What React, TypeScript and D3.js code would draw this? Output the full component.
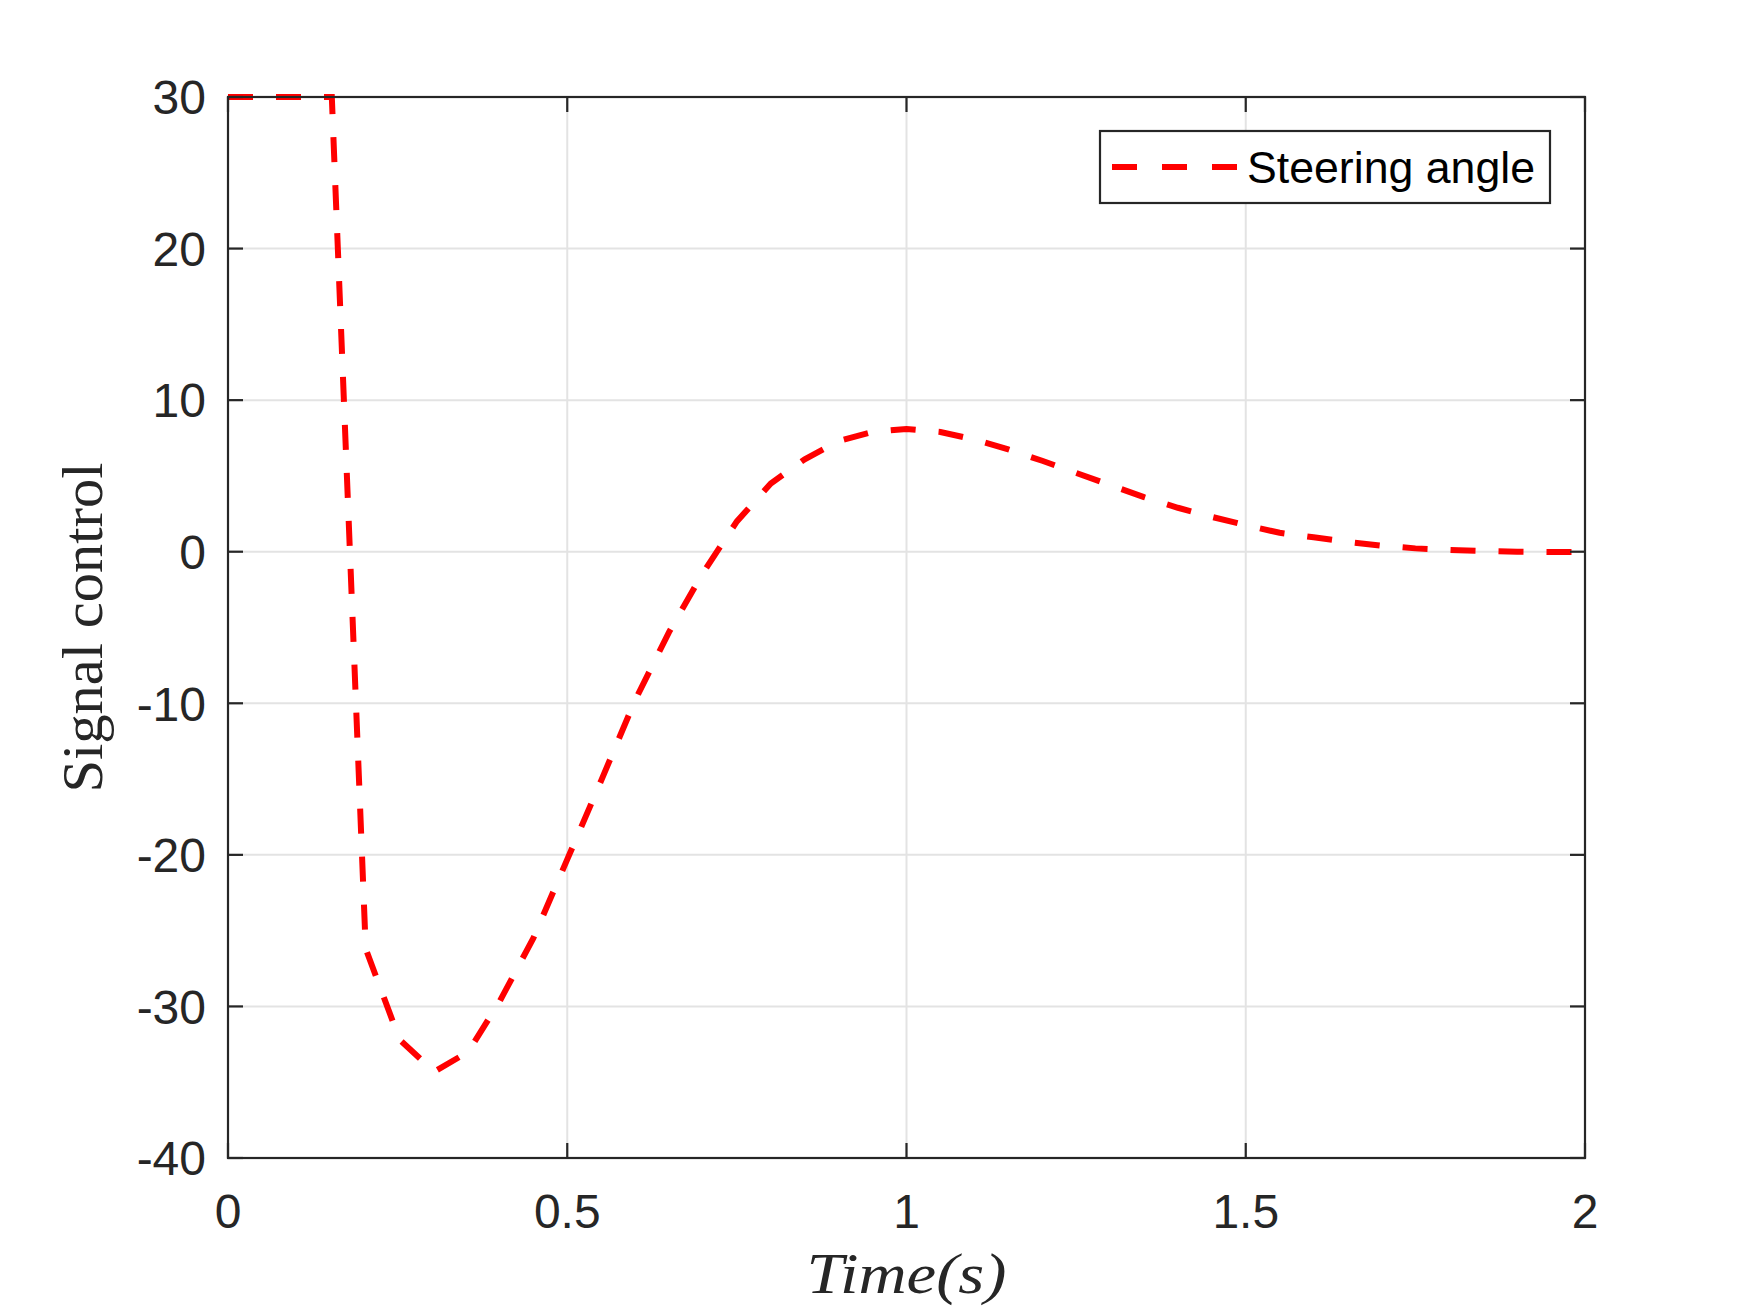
import React from "react";
import * as d3 from "d3";

const timeValues: number[] = [
  0, 0.05, 0.1, 0.153, 0.203, 0.253, 0.304, 0.354, 0.4, 0.45, 0.5, 0.55, 0.6, 0.65, 0.7,
  0.75, 0.8, 0.85, 0.9, 0.95, 1.0, 1.05, 1.1, 1.15, 1.2, 1.25, 1.3, 1.35, 1.4,
  1.45, 1.5, 1.55, 1.6, 1.65, 1.7, 1.75, 1.8, 1.85, 1.9, 1.95, 2.0,
];
const steeringAngle: number[] = [
  30, 30, 30, 30, -26.2, -32.2, -34.3, -33.0, -29.7, -25.5, -20.3, -15.1, -9.8,
  -5.3, -1.4, 2.0, 4.5, 6.1, 7.3, 7.9, 8.1, 7.9, 7.4, 6.75, 6.0, 5.2, 4.4, 3.6,
  2.9, 2.3, 1.75, 1.25, 0.95, 0.65, 0.4, 0.22, 0.12, 0.05, 0.0, -0.02, -0.02,
];
const xTicks: number[] = [0, 0.5, 1, 1.5, 2];
const xTickLabels: string[] = ["0", "0.5", "1", "1.5", "2"];
const yTicks: number[] = [-40, -30, -20, -10, 0, 10, 20, 30];
const yTickLabels: string[] = ["-40", "-30", "-20", "-10", "0", "10", "20", "30"];
const seriesName = "Steering angle";
const xLabel = "Time(s)";
const yLabel = "Signal control";

export default function App() {
  const W = 1750;
  const H = 1313;
  const left = 228;
  const right = 1585;
  const top = 97;
  const bottom = 1158;
  const x = d3.scaleLinear().domain([0, 2]).range([left, right]);
  const y = d3.scaleLinear().domain([-40, 30]).range([bottom, top]);
  const data = timeValues.map((t, i) => [t, steeringAngle[i]] as [number, number]);
  const line = d3
    .line<[number, number]>()
    .x((d) => x(d[0]))
    .y((d) => y(d[1]));
  const axisColor = "#262626";
  const gridColor = "#e3e3e3";
  const tickLen = 15;
  const sans = "'Liberation Sans', Arial, Helvetica, sans-serif";
  const serif = "'Liberation Serif', 'Times New Roman', serif";

  return (
    <svg
      width={W}
      height={H}
      style={{ position: "absolute", left: 0, top: 0, background: "#fff" }}
    >
      <rect x={0} y={0} width={W} height={H} fill="#fff" />
      {xTicks.slice(1, -1).map((t) => (
        <line key={"gx" + t} x1={x(t)} x2={x(t)} y1={top} y2={bottom} stroke={gridColor} strokeWidth={2} />
      ))}
      {yTicks.slice(1, -1).map((v) => (
        <line key={"gy" + v} x1={left} x2={right} y1={y(v)} y2={y(v)} stroke={gridColor} strokeWidth={2} />
      ))}
      <path
        d={line(data) || ""}
        fill="none"
        stroke="#ff0000"
        strokeWidth={6}
        strokeDasharray="25 23"
        strokeLinejoin="miter"
      />
      <rect x={left} y={top} width={right - left} height={bottom - top} fill="none" stroke={axisColor} strokeWidth={2.2} />
      {xTicks.map((t) => (
        <g key={"tx" + t}>
          <line x1={x(t)} x2={x(t)} y1={bottom} y2={bottom - tickLen} stroke={axisColor} strokeWidth={2.2} />
          <line x1={x(t)} x2={x(t)} y1={top} y2={top + tickLen} stroke={axisColor} strokeWidth={2.2} />
        </g>
      ))}
      {yTicks.map((v) => (
        <g key={"ty" + v}>
          <line x1={left} x2={left + tickLen} y1={y(v)} y2={y(v)} stroke={axisColor} strokeWidth={2.2} />
          <line x1={right} x2={right - tickLen} y1={y(v)} y2={y(v)} stroke={axisColor} strokeWidth={2.2} />
        </g>
      ))}
      {xTicks.map((t, i) => (
        <text key={"lx" + t} x={x(t)} y={bottom + 70} textAnchor="middle" fontFamily={sans} fontSize={48} fill={axisColor}>
          {xTickLabels[i]}
        </text>
      ))}
      {yTicks.map((v, i) => (
        <text key={"ly" + v} x={left - 22} y={y(v)} dy="0.36em" textAnchor="end" fontFamily={sans} fontSize={48} fill={axisColor}>
          {yTickLabels[i]}
        </text>
      ))}
      <text
        x={(left + right) / 2}
        y={1293}
        textAnchor="middle"
        fontFamily={serif}
        fontStyle="italic"
        fontSize={56}
        fill={axisColor}
        textLength={200}
        lengthAdjust="spacingAndGlyphs"
      >
        {xLabel}
      </text>
      <text
        transform={`translate(102, ${(top + bottom) / 2}) rotate(-90)`}
        textAnchor="middle"
        fontFamily={serif}
        fontSize={58}
        fill={axisColor}
        textLength={330}
        lengthAdjust="spacingAndGlyphs"
      >
        {yLabel}
      </text>
      <rect x={1100} y={131} width={450} height={72} fill="#fff" stroke={axisColor} strokeWidth={2.2} />
      <line x1={1112} x2={1238} y1={167} y2={167} stroke="#ff0000" strokeWidth={6} strokeDasharray="25 25" />
      <text x={1247} y={167} dy="0.36em" fontFamily={sans} fontSize={45} fill="#000" textLength={288} lengthAdjust="spacingAndGlyphs">
        {seriesName}
      </text>
    </svg>
  );
}
